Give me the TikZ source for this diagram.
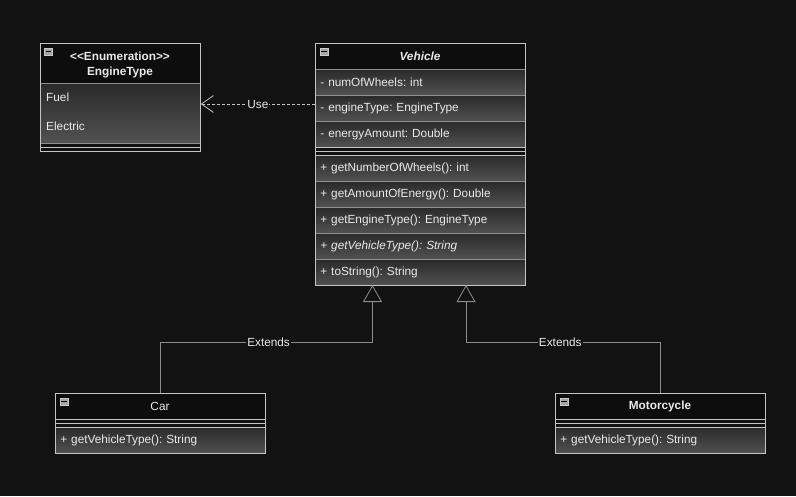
\documentclass[tikz,border=0pt]{standalone}
\usepackage{fontspec}
\setmainfont{Liberation Sans}
\usetikzlibrary{arrows.meta}
\frenchspacing
\definecolor{bg}{HTML}{121212}
\definecolor{hdr}{HTML}{0D0D0D}
\definecolor{rtop}{HTML}{2A2A2A}
\definecolor{rbot}{HTML}{525252}
\definecolor{edge}{HTML}{C4C4C4}
\definecolor{inner}{HTML}{8E8E8E}
\definecolor{conn}{HTML}{8C8C8C}
\definecolor{txt}{HTML}{EAEAEA}
\definecolor{icfill}{HTML}{A6A6A6}
\begin{document}
\begin{tikzpicture}[x=1pt,y=-1pt,
  every node/.style={font=\fontsize{11.8}{13}\selectfont, text=txt},
  hdrcell/.style={draw=edge, fill=hdr, anchor=north west, inner sep=0pt, line width=0.8pt},
  rowcell/.style={draw=inner, top color=rtop, bottom color=rbot, anchor=north west,
     inner xsep=5pt, inner ysep=0pt, minimum height=26pt, text width=#1, align=left, line width=0.8pt},
  rowcell/.default=200pt,
  outline/.style={draw=edge, anchor=north west, inner sep=0pt, line width=0.8pt},
  sepline/.style={draw=edge, line width=0.8pt},
  icon/.style={draw=icfill!60!white, fill=icfill, anchor=north west, inner sep=0pt, minimum width=8pt, minimum height=7pt, line width=0.5pt},
  gen/.style={draw=conn, line width=0.8pt, -{Triangle[open,length=17pt,width=19pt]}},
  dep/.style={draw=edge, line width=0.8pt, dash pattern=on 3pt off 2pt, -{Straight Barb[length=12pt,width=17pt]}},
  lbl/.style={fill=bg, inner sep=1pt, text=txt}
]
\fill[bg] (0,0) rectangle (796,496);
\useasboundingbox (0,0) rectangle (796,496);

% ===== EngineType =====
\node[hdrcell, minimum width=160pt, minimum height=40pt] (enumhdr) at (40,43) {};
\node[align=center, font=\fontsize{11.8}{15}\selectfont\bfseries] (enumtitle) at (120,64.5) {<\kern0pt<Enumeration>\kern0pt>\\EngineType};
\node[rowcell=150pt, minimum height=60pt] (enumattr) at (40,83) {};
\node[anchor=west, inner sep=0pt] (fuel) at (46,97) {Fuel};
\node[anchor=west, inner sep=0pt] (elec) at (46,126) {Electric};
\draw[sepline] (40,147) -- (200,147);
\node[outline, minimum width=160pt, minimum height=108pt] (enumbox) at (40,43) {};
\node[icon] (ic1) at (44,47.5) {};
\draw[black, line width=1pt] ([xshift=1.5pt]ic1.west) -- ([xshift=-1.5pt]ic1.east);

% ===== Vehicle =====
\node[hdrcell, minimum width=210pt, minimum height=26pt] (vehhdr) at (315,43) {};
\node[font=\fontsize{11.8}{13}\selectfont\bfseries\itshape] (vehtitle) at (420,56.5) {Vehicle};
\node[rowcell] (va1) at (315,69) {- numOfWheels: int};
\node[rowcell] (va2) at (315,95) {- engineType: EngineType};
\node[rowcell] (va3) at (315,121) {- energyAmount: Double};
\draw[sepline] (315,151) -- (525,151);
\node[rowcell] (vm1) at (315,155) {+ getNumberOfWheels(): int};
\node[rowcell] (vm2) at (315,181) {+ getAmountOfEnergy(): Double};
\node[rowcell] (vm3) at (315,207) {+ getEngineType(): EngineType};
\node[rowcell, font=\fontsize{11.8}{13}\selectfont\itshape] (vm4) at (315,233) {+ getVehicleType(): String};
\node[rowcell] (vm5) at (315,259) {+ toString(): String};
\draw[sepline] (315,147) -- (525,147);
\draw[sepline] (315,155) -- (525,155);
\node[outline, minimum width=210pt, minimum height=242pt] (vehbox) at (315,43) {};
\node[icon] (ic2) at (319.5,47.5) {};
\draw[black, line width=1pt] ([xshift=1.5pt]ic2.west) -- ([xshift=-1.5pt]ic2.east);

% ===== Car =====
\node[hdrcell, minimum width=210pt, minimum height=26pt] (carhdr) at (55,393) {};
\node (cartitle) at (160,406.5) {Car};
\draw[sepline] (55,423) -- (265,423);
\node[rowcell] (cm1) at (55,427) {+ getVehicleType(): String};
\draw[sepline] (55,427) -- (265,427);
\node[outline, minimum width=210pt, minimum height=60pt] (carbox) at (55,393) {};
\node[icon] (ic3) at (59.5,397.5) {};
\draw[black, line width=1pt] ([xshift=1.5pt]ic3.west) -- ([xshift=-1.5pt]ic3.east);

% ===== Motorcycle =====
\node[hdrcell, minimum width=210pt, minimum height=26pt] (motohdr) at (555,393) {};
\node[font=\fontsize{11.8}{13}\selectfont\bfseries] (mototitle) at (660,406.5) {Motorcycle};
\draw[sepline] (555,423) -- (765,423);
\node[rowcell] (mm1) at (555,427) {+ getVehicleType(): String};
\draw[sepline] (555,427) -- (765,427);
\node[outline, minimum width=210pt, minimum height=60pt] (motobox) at (555,393) {};
\node[icon] (ic4) at (559.5,397.5) {};
\draw[black, line width=1pt] ([xshift=1.5pt]ic4.west) -- ([xshift=-1.5pt]ic4.east);

% ===== Connectors =====
\coordinate (useY) at (0,104);
\draw[dep] (vehbox.west |- useY) -- node[lbl, pos=0.5] {Use} (enumbox.east |- useY);

\coordinate (bendY) at (0,342);
\coordinate (gA) at (372.5,285);
\coordinate (gB) at (466,285);
\draw[gen] (carbox.north) -- (carbox.north |- bendY) -- node[lbl, pos=0.51] {Extends} (gA |- bendY) -- (gA);
\draw[gen] (motobox.north) -- (motobox.north |- bendY) -- node[lbl, pos=0.515] {Extends} (gB |- bendY) -- (gB);
\end{tikzpicture}
\end{document}
